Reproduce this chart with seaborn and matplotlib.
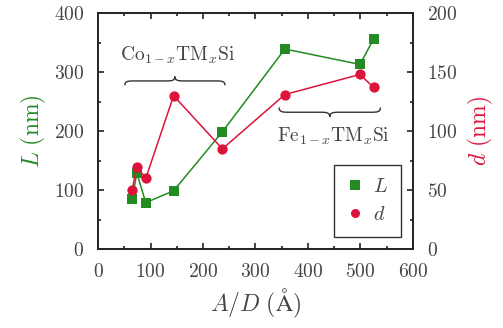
import numpy as np
import pandas as pd
import seaborn as sns
import matplotlib
matplotlib.use("Agg")
import matplotlib.pyplot as plt
from matplotlib.path import Path
from matplotlib.patches import PathPatch
from matplotlib.lines import Line2D
from matplotlib.ticker import MultipleLocator

# ---- data ----
ad_ratio = [65, 74, 91, 144, 237, 356, 499, 525]
L_nm = [85, 129, 79, 99, 199, 339, 313, 356]
d_nm = [50, 70, 60, 130, 85, 131, 148, 137]

green = "#228B22"
red = "#DC143C"

sns.set_style("ticks")
plt.rcParams["font.family"] = "serif"
plt.rcParams["font.serif"] = ["cmr10"]
plt.rcParams["mathtext.fontset"] = "cm"
plt.rcParams["axes.unicode_minus"] = False
plt.rcParams["axes.formatter.use_mathtext"] = True

df = pd.DataFrame({"x": ad_ratio, "L": L_nm, "d": d_nm})

fig = plt.figure(figsize=(5.03, 3.28), dpi=100)
ax = fig.add_axes([98 / 503, 1 - 249.3 / 328, (413 - 98) / 503, (249.3 - 13) / 328])
ax2 = ax.twinx()

sns.lineplot(data=df, x="x", y="L", ax=ax, color=green, marker="s", markersize=7.2,
             markeredgewidth=0, linewidth=1.1, sort=False)
sns.lineplot(data=df, x="x", y="d", ax=ax2, color=red, marker="o", markersize=7.4,
             markeredgewidth=0, linewidth=1.1, sort=False)

ax.set_xlim(0, 600)
ax.set_ylim(0, 400)
ax2.set_ylim(0, 200)
ax.xaxis.set_major_locator(MultipleLocator(100))
ax.xaxis.set_minor_locator(MultipleLocator(50))
ax.yaxis.set_major_locator(MultipleLocator(100))
ax.yaxis.set_minor_locator(MultipleLocator(50))
ax2.yaxis.set_major_locator(MultipleLocator(50))
ax2.yaxis.set_minor_locator(MultipleLocator(25))

fs_tick = 14
for a in (ax, ax2):
    a.tick_params(which="both", direction="in", width=1.2, labelsize=fs_tick, pad=10,
                  colors="#222222", labelcolor="#444444")
    a.tick_params(which="major", length=4)
    a.tick_params(which="minor", length=2.5)
    for s in a.spines.values():
        s.set_linewidth(1.3)
ax.tick_params(which="both", top=True, right=False)
ax2.tick_params(which="both", left=False, right=True, top=False)

ax.set_xlabel(r"$A/D\ (\mathrm{\AA})$", fontsize=17, color="#444444", labelpad=4)
ax.set_ylabel(r"$L\ (\mathrm{nm})$", fontsize=17, color=green, labelpad=4)
ax2.set_ylabel(r"$d\ (\mathrm{nm})$", fontsize=17, color=red, labelpad=6)


def brace(axis, x0, x1, y, amp, up=True, color="#333333"):
    s = 1 if up else -1
    xm = 0.5 * (x0 + x1)
    q = 0.09 * (x1 - x0)
    a = amp * s
    verts = [
        (x0, y - a), (x0, y - 0.1 * a), (x0 + 0.3 * q, y), (x0 + q, y),
        (xm - q, y),
        (xm - 0.3 * q, y), (xm, y + 0.1 * a), (xm, y + a),
        (xm, y + 0.1 * a), (xm + 0.3 * q, y), (xm + q, y),
        (x1 - q, y),
        (x1 - 0.3 * q, y), (x1, y - 0.1 * a), (x1, y - a),
    ]
    codes = [Path.MOVETO, Path.CURVE4, Path.CURVE4, Path.CURVE4,
             Path.LINETO,
             Path.CURVE4, Path.CURVE4, Path.CURVE4,
             Path.CURVE4, Path.CURVE4, Path.CURVE4,
             Path.LINETO,
             Path.CURVE4, Path.CURVE4, Path.CURVE4]
    axis.add_patch(PathPatch(Path(verts, codes), fill=False, lw=1.0, edgecolor=color,
                             zorder=5))


brace(ax, 51, 242, 285, 7.5, up=True)
brace(ax, 345, 538, 232, 8, up=False)
ax.text(152, 329, r"$\mathrm{Co}_{1-x}\mathrm{TM}_x\mathrm{Si}$", fontsize=14,
        ha="center", va="center", color="#444444")
ax.text(448, 191, r"$\mathrm{Fe}_{1-x}\mathrm{TM}_x\mathrm{Si}$", fontsize=14,
        ha="center", va="center", color="#444444")

handles = [Line2D([], [], color=green, marker="s", linestyle="none", markersize=6.5,
                  markeredgewidth=0),
           Line2D([], [], color=red, marker="o", linestyle="none", markersize=6.5,
                  markeredgewidth=0)]
leg = ax2.legend(handles, [r"$L$", r"$d$"], loc="lower right", fontsize=14.5,
                 frameon=True, fancybox=False, framealpha=1, edgecolor="#333333",
                 borderaxespad=0.6, handlelength=0.8, handletextpad=0.5,
                 borderpad=0.65, labelspacing=0.5)
leg.get_frame().set_linewidth(1.0)
for t in leg.get_texts():
    t.set_color("#444444")

fig.savefig("out.png", dpi=100)
